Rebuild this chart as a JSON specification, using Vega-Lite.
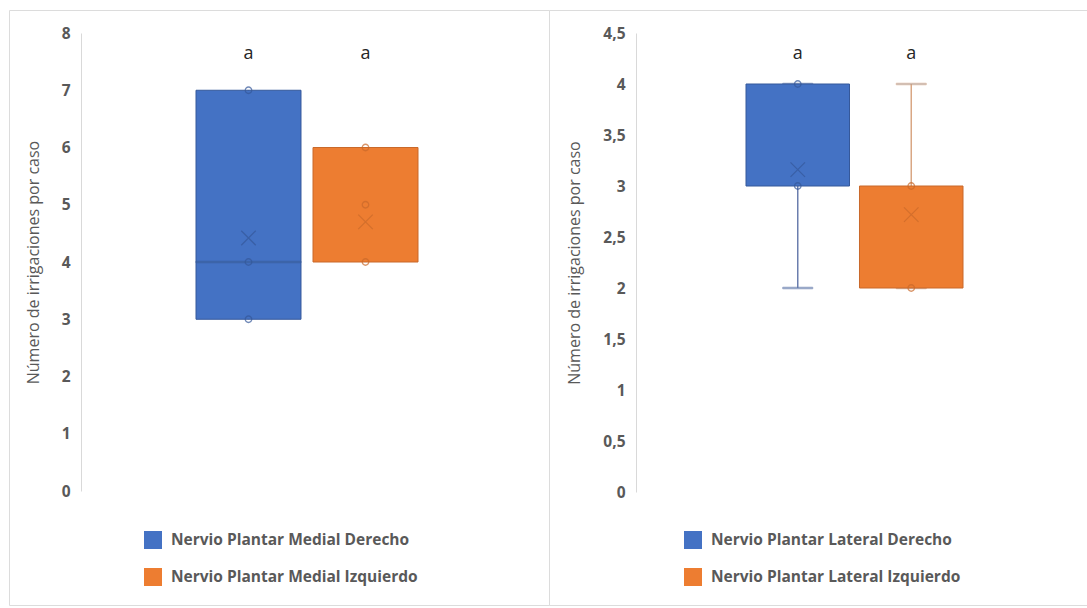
{
  "$schema": "https://vega.github.io/schema/vega-lite/v6.json",
  "background": "white",
  "padding": {"left": 8, "top": 9, "right": 0, "bottom": 0},
  "spacing": 0,
  "bounds": "flush",
  "resolve": {"scale": {"color": "independent", "stroke": "independent"}, "legend": {"color": "independent"}},
  "config": {
    "view": {"stroke": "#dcdcdc", "strokeWidth": 1},
    "axis": {
      "domainColor": "#d9d9d9", "ticks": false, "grid": false,
      "labelFont": "Open Sans", "labelFontWeight": "bold", "labelFontSize": 15.5, "labelColor": "#595959", "labelPadding": 11,
      "titleFont": "Open Sans", "titleFontWeight": "normal", "titleFontSize": 16, "titleColor": "#595959", "titlePadding": 20
    },
    "legend": {
      "orient": "none", "legendX": 135, "legendY": 521, "direction": "vertical",
      "symbolType": "square", "symbolSize": 324, "symbolStrokeWidth": 0,
      "labelFont": "Open Sans", "labelFontWeight": "bold", "labelFontSize": 15.5, "labelColor": "#595959",
      "labelOffset": 9, "rowPadding": 19, "labelLimit": 400
    }
  },
  "hconcat": [
    {
      "width": 540, "height": 595,
      "data": {"values": [
        {"group": "Nervio Plantar Medial Derecho", "min": 3, "q1": 3, "median": 4, "q3": 7, "max": 7, "mean": 4.42, "letter": "a"},
        {"group": "Nervio Plantar Medial Izquierdo", "min": 4, "q1": 4, "median": 4, "q3": 6, "max": 6, "mean": 4.7, "letter": "a"}
      ]},
      "encoding": {
        "x": {"field": "group", "type": "nominal", "axis": null, "sort": null,
              "scale": {"range": [187, 409], "paddingInner": 0.1026, "paddingOuter": 0}}
      },
      "resolve": {"scale": {"stroke": "independent"}},
      "layer": [
        {
          "mark": {"type": "rule", "strokeWidth": 1.5},
          "encoding": {
            "y": {"field": "min", "type": "quantitative",
                  "scale": {"domain": [0, 8], "range": [481, 23], "nice": false},
                  "axis": {"values": [0, 1, 2, 3, 4, 5, 6, 7, 8], "offset": -72, "title": "Número de irrigaciones por caso",
                           "labelExpr": "replace(format(datum.value, '~g'), '.', ',')"}},
            "y2": {"field": "max"},
            "stroke": {"field": "group", "type": "nominal", "legend": null, "scale": {"range": ["#6b7eae", "#d9a784"]}}
          }
        },
        {
          "mark": {"type": "bar", "strokeWidth": 1},
          "encoding": {
            "y": {"field": "q1", "type": "quantitative"},
            "y2": {"field": "q3"},
            "color": {"field": "group", "type": "nominal", "title": null,
                      "scale": {"range": ["#4472c4", "#ed7d31"]}},
            "stroke": {"field": "group", "type": "nominal", "legend": null, "scale": {"range": ["#35589a", "#c9692a"]}}
          }
        },
        {
          "transform": [{"filter": "datum.median > datum.q1 && datum.median < datum.q3"}],
          "mark": {"type": "tick", "size": 105, "thickness": 1.5},
          "encoding": {
            "y": {"field": "median", "type": "quantitative"},
            "stroke": {"field": "group", "type": "nominal", "legend": null, "scale": {"range": ["#35589a", "#c9692a"]}}
          }
        },
        {
          "data": {"values": [
            {"group": "Nervio Plantar Medial Derecho", "value": 3},
            {"group": "Nervio Plantar Medial Derecho", "value": 4},
            {"group": "Nervio Plantar Medial Derecho", "value": 7},
            {"group": "Nervio Plantar Medial Izquierdo", "value": 4},
            {"group": "Nervio Plantar Medial Izquierdo", "value": 5},
            {"group": "Nervio Plantar Medial Izquierdo", "value": 6}
          ]},
          "mark": {"type": "point", "shape": "circle", "size": 42, "strokeWidth": 1.3, "filled": false},
          "encoding": {
            "y": {"field": "value", "type": "quantitative"},
            "stroke": {"field": "group", "type": "nominal", "legend": null, "scale": {"range": ["#35589a", "#c9692a"]}}
          }
        },
        {
          "mark": {"type": "point", "shape": "M-1,-1L1,1M-1,1L1,-1", "size": 210, "strokeWidth": 1.2, "filled": false},
          "encoding": {
            "y": {"field": "mean", "type": "quantitative"},
            "stroke": {"field": "group", "type": "nominal", "legend": null, "scale": {"range": ["#35589a", "#c9692a"]}}
          }
        },
        {
          "mark": {"type": "text", "font": "Open Sans", "fontSize": 18, "color": "#262626", "baseline": "middle"},
          "encoding": {
            "y": {"datum": 7.63},
            "text": {"field": "letter"}
          }
        }
      ]
    },
    {
      "width": 539, "height": 595,
      "data": {"values": [
        {"group": "Nervio Plantar Lateral Derecho", "min": 2, "q1": 3, "median": 3, "q3": 4, "max": 4, "mean": 3.16, "letter": "a"},
        {"group": "Nervio Plantar Lateral Izquierdo", "min": 2, "q1": 2, "median": 3, "q3": 3, "max": 4, "mean": 2.72, "letter": "a"}
      ]},
      "encoding": {
        "x": {"field": "group", "type": "nominal", "axis": null, "sort": null,
              "scale": {"range": [197, 414], "paddingInner": 0.088, "paddingOuter": 0}}
      },
      "resolve": {"scale": {"stroke": "independent"}},
      "layer": [
        {
          "mark": {"type": "rule", "strokeWidth": 1.5},
          "encoding": {
            "y": {"field": "min", "type": "quantitative",
                  "scale": {"domain": [0, 4.5], "range": [482, 23], "nice": false},
                  "axis": {"values": [0, 0.5, 1, 1.5, 2, 2.5, 3, 3.5, 4, 4.5], "offset": -87, "title": "Número de irrigaciones por caso",
                           "labelExpr": "replace(format(datum.value, '~g'), '.', ',')"}},
            "y2": {"field": "max"},
            "stroke": {"field": "group", "type": "nominal", "legend": null, "scale": {"range": ["#6b7eae", "#d9a784"]}}
          }
        },
        {
          "transform": [{"fold": ["min", "max"], "as": ["end", "capv"]}],
          "mark": {"type": "tick", "size": 30, "thickness": 1.5},
          "encoding": {
            "y": {"field": "capv", "type": "quantitative"},
            "stroke": {"field": "group", "type": "nominal", "legend": null, "scale": {"range": ["#6b7eae", "#d9a784"]}}
          }
        },
        {
          "mark": {"type": "bar", "strokeWidth": 1},
          "encoding": {
            "y": {"field": "q1", "type": "quantitative"},
            "y2": {"field": "q3"},
            "color": {"field": "group", "type": "nominal", "title": null,
                      "scale": {"range": ["#4472c4", "#ed7d31"]}},
            "stroke": {"field": "group", "type": "nominal", "legend": null, "scale": {"range": ["#35589a", "#c9692a"]}}
          }
        },
        {
          "data": {"values": [
            {"group": "Nervio Plantar Lateral Derecho", "value": 3},
            {"group": "Nervio Plantar Lateral Derecho", "value": 4},
            {"group": "Nervio Plantar Lateral Izquierdo", "value": 2},
            {"group": "Nervio Plantar Lateral Izquierdo", "value": 3}
          ]},
          "mark": {"type": "point", "shape": "circle", "size": 42, "strokeWidth": 1.3, "filled": false},
          "encoding": {
            "y": {"field": "value", "type": "quantitative"},
            "stroke": {"field": "group", "type": "nominal", "legend": null, "scale": {"range": ["#35589a", "#c9692a"]}}
          }
        },
        {
          "mark": {"type": "point", "shape": "M-1,-1L1,1M-1,1L1,-1", "size": 210, "strokeWidth": 1.2, "filled": false},
          "encoding": {
            "y": {"field": "mean", "type": "quantitative"},
            "stroke": {"field": "group", "type": "nominal", "legend": null, "scale": {"range": ["#35589a", "#c9692a"]}}
          }
        },
        {
          "mark": {"type": "text", "font": "Open Sans", "fontSize": 18, "color": "#262626", "baseline": "middle"},
          "encoding": {
            "y": {"datum": 4.29},
            "text": {"field": "letter"}
          }
        }
      ]
    }
  ]
}
